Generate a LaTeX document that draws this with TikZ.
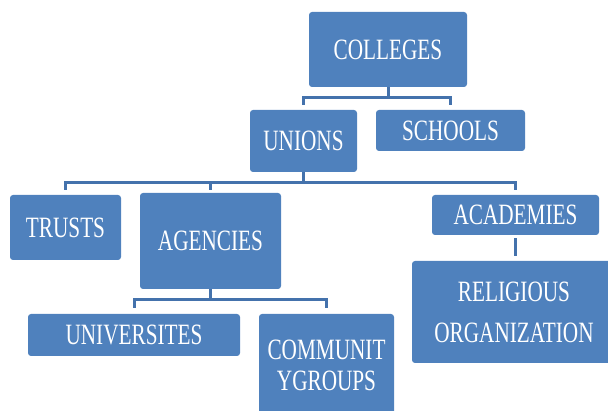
\documentclass[tikz,border=0pt]{standalone}
\usepackage{fontspec}
\setmainfont[FakeStretch=0.72]{Liberation Serif}
\definecolor{boxblue}{RGB}{79,129,189}
\definecolor{linkblue}{RGB}{68,114,172}
\begin{document}
\begin{tikzpicture}[x=1pt,y=-1pt,
  orgbox/.style={fill=boxblue, rounded corners=3pt, text=white, align=center,
    inner sep=0pt, font=\fontsize{29.5}{31}\selectfont},
  conn/.style={draw=linkblue, line width=3pt}]
\useasboundingbox (0,0) rectangle (608,411);
\clip (0,0) rectangle (608,411);

% boxes
\node[orgbox, minimum width=158pt, minimum height=75pt]  (colleges)  at (388,49.5)  {COLLEGES};
\node[orgbox, minimum width=107pt, minimum height=62pt]  (unions)    at (303.5,141) {UNIONS};
\node[orgbox, minimum width=149pt, minimum height=41pt]  (schools)   at (450.5,130.5) {SCHOOLS};
\node[orgbox, minimum width=111pt, minimum height=65pt]  (trusts)    at (65.5,227.5) {TRUSTS};
\node[orgbox, minimum width=141pt, minimum height=96pt]  (agencies)  at (210.5,241) {AGENCIES};
\node[orgbox, minimum width=167pt, minimum height=40pt]  (academies) at (515.5,215) {ACADEMIES};
\node[orgbox, minimum width=204pt, minimum height=102pt] (religious) at (514,312)   {RELIGIOUS\\[10pt]ORGANIZATION};
\node[orgbox, minimum width=212pt, minimum height=42pt]  (univ)      at (134,335)   {UNIVERSITES};
\node[orgbox, minimum width=135pt, minimum height=102pt] (community) at (326.5,365) {COMMUNIT\\YGROUPS};

% bus levels
\coordinate (bus1) at (0,98);
\coordinate (bus2) at (0,183);
\coordinate (bus3) at (0,300);
\coordinate (end1) at (0,105);
\coordinate (end2) at (0,190);
\coordinate (end3) at (0,308);

% colleges -> unions, schools
\draw[conn] (colleges.south) -- (colleges.south |- bus1);
\draw[conn] (unions.north |- end1) -- (unions.north |- bus1)
  -- (schools.north |- bus1) -- (schools.north |- end1);

% unions -> trusts, agencies, academies
\draw[conn] (unions.south) -- (unions.south |- bus2);
\draw[conn] (trusts.north |- end2) -- (trusts.north |- bus2)
  -- (academies.north |- bus2) -- (academies.north |- end2);
\draw[conn] (agencies.north |- bus2) -- (agencies.north |- end2);

% agencies -> universites, community groups
\draw[conn] (agencies.south) -- (agencies.south |- bus3);
\draw[conn] (univ.north |- end3) -- (univ.north |- bus3)
  -- (community.north |- bus3) -- (community.north |- end3);

% academies -> religious organization
\draw[conn, line width=3.5pt] ([yshift=-3pt]academies.south) -- ([yshift=5pt]academies.south |- religious.north);
\end{tikzpicture}
\end{document}
